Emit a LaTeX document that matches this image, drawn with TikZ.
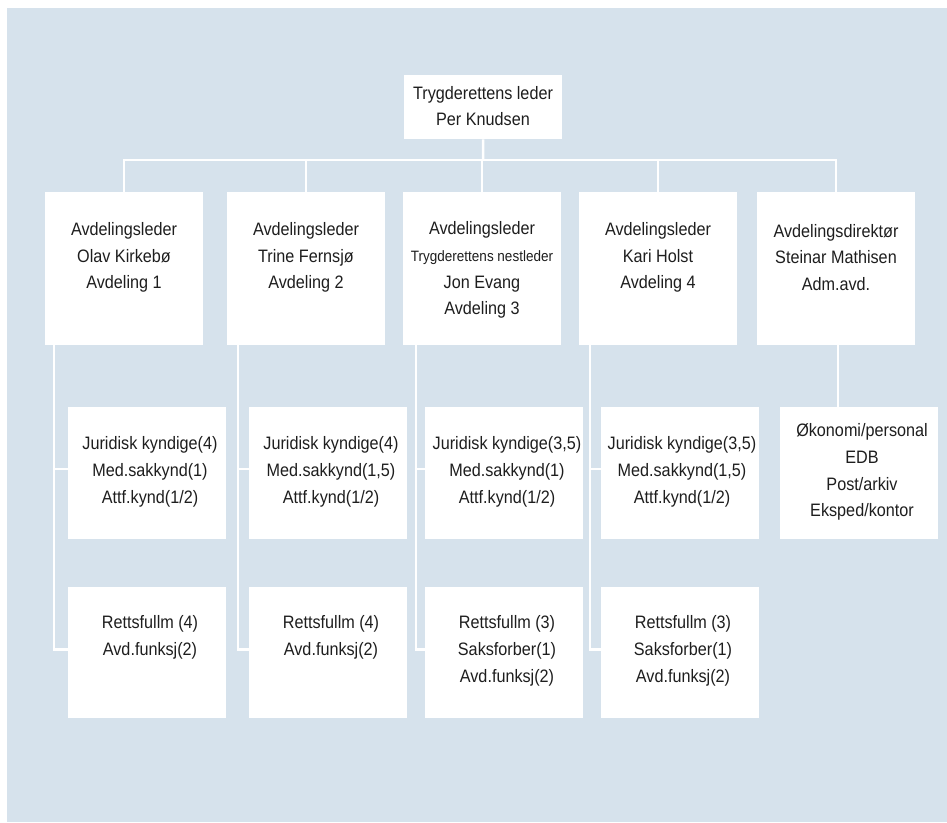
\documentclass[tikz,border=0pt]{standalone}
\usepackage{fontspec}
\setmainfont{Liberation Sans}[FakeStretch=0.9]
\definecolor{bgblue}{RGB}{214,226,236}
\definecolor{ink}{RGB}{30,30,30}
\begin{document}
\begin{tikzpicture}[x=1pt,y=-1pt,
  box/.style={fill=white,draw=none,inner sep=0pt,minimum width=158pt,anchor=north west},
  topbox/.style={box,minimum height=153pt},
  subbox/.style={box,minimum height=132pt},
  txt/.style={align=center,inner sep=0pt,font=\fontsize{18}{26.7}\selectfont,text=ink},
  link/.style={draw=white,line width=2.5pt}]
\useasboundingbox (0,0) rectangle (947,822);
\fill[bgblue] (7,8) rectangle (947,822);
% boxes
\node[box,minimum height=64pt] (top) at (404,75) {};
\node[topbox] (b1) at (45,192) {};
\node[topbox] (b2) at (227,192) {};
\node[topbox] (b3) at (403,192) {};
\node[topbox] (b4) at (579,192) {};
\node[topbox] (b5) at (757,192) {};
\node[subbox] (s1a) at (68,407) {};
\node[subbox] (s2a) at (249,407) {};
\node[subbox] (s3a) at (425,407) {};
\node[subbox] (s4a) at (601,407) {};
\node[subbox] (s5a) at (780,407) {};
\node[subbox,minimum height=131pt] (s1b) at (68,587) {};
\node[subbox,minimum height=131pt] (s2b) at (249,587) {};
\node[subbox,minimum height=131pt] (s3b) at (425,587) {};
\node[subbox,minimum height=131pt] (s4b) at (601,587) {};
% connectors
\coordinate (bus) at (483,160);
\draw[link] (top.south) -- (bus);
\draw[link] (b1.north) -- (b1.north |- bus) -- (b5.north |- bus) -- (b5.north);
\draw[link] (b2.north) -- (b2.north |- bus);
\draw[link] (b3.north) -- (b3.north |- bus);
\draw[link] (b4.north) -- (b4.north |- bus);
\coordinate (v1) at ([xshift=9pt]b1.south west);
\coordinate (v2) at ([xshift=11pt]b2.south west);
\coordinate (v3) at ([xshift=13pt]b3.south west);
\coordinate (v4) at ([xshift=11pt]b4.south west);
\foreach \v/\a/\b in {v1/s1a/s1b, v2/s2a/s2b, v3/s3a/s3b, v4/s4a/s4b}{
  \coordinate (\a-j) at ([yshift=4pt]\a.west);
  \coordinate (\b-j) at ([yshift=3pt]\b.west);
  \draw[link] (\v) -- (\v |- \b-j) -- (\b-j);
  \draw[link] (\v |- \a-j) -- (\a-j);
}
\coordinate (v5) at ([xshift=2pt]b5.south);
\draw[link] (v5) -- (v5 |- s5a.north);
% texts
\node[txt] (ttop) at (483,106) {Trygderettens leder\\Per Knudsen};
\node[txt] (t1) at (124,257.5) {Avdelingsleder\\Olav Kirkebø\\Avdeling 1};
\node[txt] (t2) at (306,257.5) {Avdelingsleder\\Trine Fernsjø\\Avdeling 2};
\node[txt] (t3) at (482,270) {Avdelingsleder\\{\fontsize{15}{20}\selectfont Trygderettens nestleder}\\Jon Evang\\Avdeling 3};
\node[txt] (t4) at (658,257.5) {Avdelingsleder\\Kari Holst\\Avdeling 4};
\node[txt] (t5) at (836,257.5) {Avdelingsdirektør\\Steinar Mathisen\\Adm.avd.};
\node[txt] (u1a) at (150,472) {Juridisk kyndige(4)\\Med.sakkynd(1)\\Attf.kynd(1/2)};
\node[txt] (u2a) at (331,472) {Juridisk kyndige(4)\\Med.sakkynd(1,5)\\Attf.kynd(1/2)};
\node[txt] (u3a) at (507,472) {Juridisk kyndige(3,5)\\Med.sakkynd(1)\\Attf.kynd(1/2)};
\node[txt] (u4a) at (682,472) {Juridisk kyndige(3,5)\\Med.sakkynd(1,5)\\Attf.kynd(1/2)};
\node[txt] (u5a) at (862,472) {Økonomi/personal\\EDB\\Post/arkiv\\Eksped/kontor};
\node[txt] (u1b) at (150,637.5) {Rettsfullm (4)\\Avd.funksj(2)};
\node[txt] (u2b) at (331,637.5) {Rettsfullm (4)\\Avd.funksj(2)};
\node[txt] (u3b) at (507,651) {Rettsfullm (3)\\Saksforber(1)\\Avd.funksj(2)};
\node[txt] (u4b) at (683,651) {Rettsfullm (3)\\Saksforber(1)\\Avd.funksj(2)};
\end{tikzpicture}
\end{document}
